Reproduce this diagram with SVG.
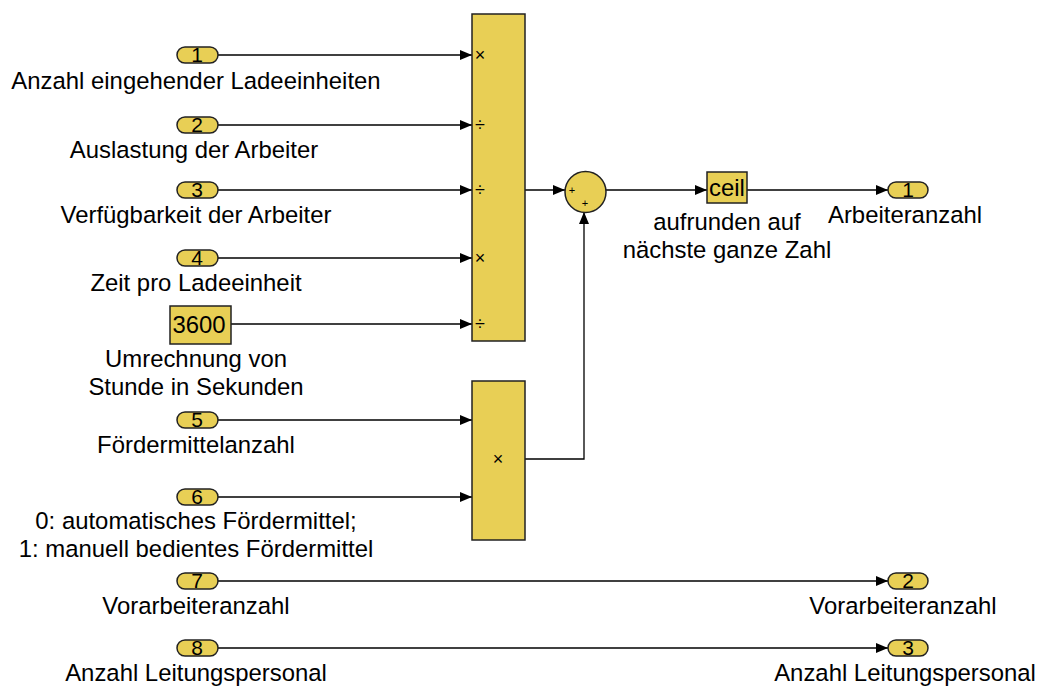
<svg xmlns="http://www.w3.org/2000/svg" width="1037" height="687" viewBox="0 0 1037 687">
<defs>
<marker id="ah" markerWidth="12" markerHeight="10" refX="12" refY="5" orient="auto" markerUnits="userSpaceOnUse">
<path d="M0,0 L12,5 L0,10 Z" fill="#000"/>
</marker>
<style>
.blk{fill:#E8CF55;stroke:#222;stroke-width:1.5}
.port{fill:#E8CF55;stroke:#222;stroke-width:1.5}
.t{font-family:"Liberation Sans",Arial,sans-serif;font-size:23.9px;fill:#000;text-anchor:middle}
.n{font-family:"Liberation Sans",Arial,sans-serif;font-size:21px;fill:#000;text-anchor:middle}
.s{font-family:"Liberation Sans",Arial,sans-serif;font-size:18px;fill:#000;text-anchor:middle}
.w{fill:none;stroke:#000;stroke-width:1.3;marker-end:url(#ah)}
</style>
</defs>
<rect width="1037" height="687" fill="#fff"/>
<g id="connectors">
<path class="w" d="M218,55 H472"/>
<path class="w" d="M218,125 H472"/>
<path class="w" d="M218,190 H472"/>
<path class="w" d="M218,258 H472"/>
<path class="w" d="M231,324 H472"/>
<path class="w" d="M218,420 H472"/>
<path class="w" d="M218,497 H472"/>
<path class="w" d="M525,190 H565"/>
<path class="w" d="M525,459 H584 V212"/>
<path class="w" d="M606,190 H707"/>
<path class="w" d="M747,190 H888"/>
<path class="w" d="M218,581 H888"/>
<path class="w" d="M218,648 H888"/>
</g>
<g id="in1"><rect class="port" x="177" y="47" width="41" height="16" rx="8"/><text class="n" x="197" y="62">1</text><text class="t" x="196" y="89">Anzahl eingehender Ladeeinheiten</text></g>
<g id="in2"><rect class="port" x="177" y="117" width="41" height="16" rx="8"/><text class="n" x="197" y="132">2</text><text class="t" x="194" y="158">Auslastung der Arbeiter</text></g>
<g id="in3"><rect class="port" x="177" y="182" width="41" height="16" rx="8"/><text class="n" x="197" y="197">3</text><text class="t" x="196" y="223">Verfügbarkeit der Arbeiter</text></g>
<g id="in4"><rect class="port" x="177" y="250" width="41" height="16" rx="8"/><text class="n" x="197" y="265">4</text><text class="t" x="196" y="291">Zeit pro Ladeeinheit</text></g>
<g id="const3600"><rect class="blk" x="170" y="306" width="61" height="38"/><text class="t" x="199" y="333">3600</text><text class="t" x="196" y="367">Umrechnung von</text><text class="t" x="196" y="395">Stunde in Sekunden</text></g>
<g id="in5"><rect class="port" x="177" y="412" width="41" height="16" rx="8"/><text class="n" x="197" y="427">5</text><text class="t" x="196" y="453">Fördermittelanzahl</text></g>
<g id="in6"><rect class="port" x="177" y="489" width="41" height="16" rx="8"/><text class="n" x="197" y="504">6</text><text class="t" x="196" y="529">0: automatisches Fördermittel;</text><text class="t" x="196" y="557">1: manuell bedientes Fördermittel</text></g>
<g id="in7"><rect class="port" x="177" y="573" width="41" height="16" rx="8"/><text class="n" x="197" y="588">7</text><text class="t" x="196" y="614">Vorarbeiteranzahl</text></g>
<g id="in8"><rect class="port" x="177" y="640" width="41" height="16" rx="8"/><text class="n" x="197" y="655">8</text><text class="t" x="196" y="681">Anzahl Leitungspersonal</text></g>
<g id="product1"><rect class="blk" x="472" y="14" width="53" height="327"/>
<text class="s" x="480" y="61">×</text><text class="s" x="480" y="131">÷</text><text class="s" x="480" y="196">÷</text><text class="s" x="480" y="264">×</text><text class="s" x="480" y="330">÷</text></g>
<g id="product2"><rect class="blk" x="472" y="381" width="53" height="159"/><text class="s" x="498" y="465">×</text></g>
<g id="sum"><circle class="blk" cx="585.5" cy="192" r="20.5"/><text class="s" x="572" y="194" style="font-size:11px">+</text><text class="s" x="585" y="207" style="font-size:11px">+</text></g>
<g id="ceil"><rect class="blk" x="707" y="172" width="40" height="31"/><text class="t" x="727" y="196">ceil</text><text class="t" x="727" y="230">aufrunden auf</text><text class="t" x="727" y="258">nächste ganze Zahl</text></g>
<g id="out1"><rect class="port" x="888" y="182" width="40" height="16" rx="8"/><text class="n" x="908" y="197">1</text><text class="t" x="905" y="223">Arbeiteranzahl</text></g>
<g id="out2"><rect class="port" x="888" y="573" width="40" height="16" rx="8"/><text class="n" x="908" y="588">2</text><text class="t" x="903" y="614">Vorarbeiteranzahl</text></g>
<g id="out3"><rect class="port" x="888" y="640" width="40" height="16" rx="8"/><text class="n" x="908" y="655">3</text><text class="t" x="905" y="681">Anzahl Leitungspersonal</text></g>
</svg>
